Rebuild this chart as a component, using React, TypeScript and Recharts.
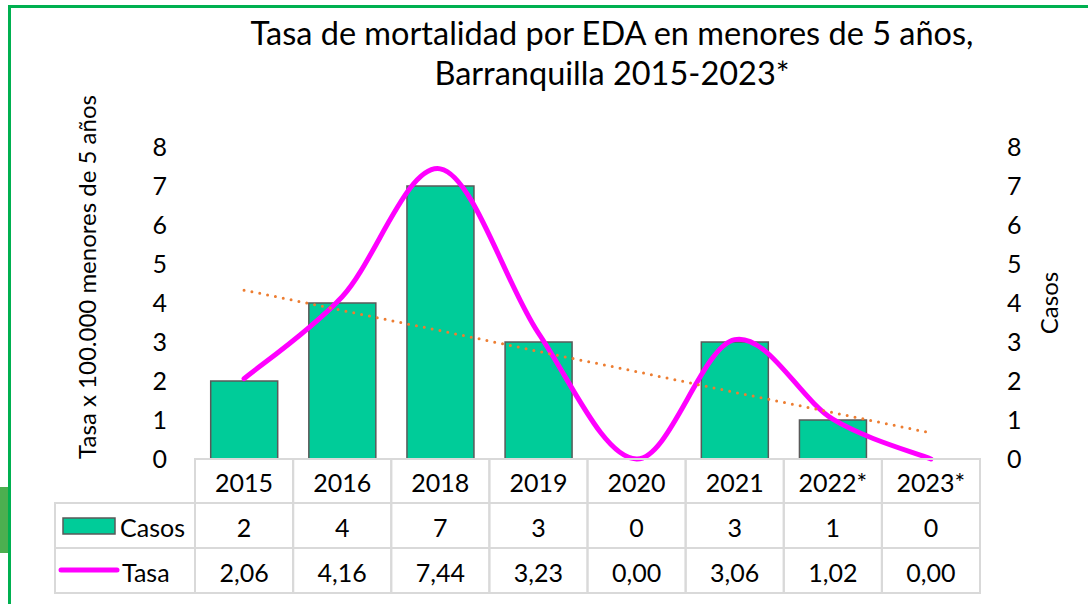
import { ComposedChart, Bar, Line, XAxis, YAxis } from 'recharts'

const years = ['2015', '2016', '2018', '2019', '2020', '2021', '2022*', '2023*']
const casos = [2, 4, 7, 3, 0, 3, 1, 0]
const tasa = [2.06, 4.16, 7.44, 3.23, 0, 3.06, 1.02, 0]
// dotted linear trend line
const tendencia = [4.33, 3.81, 3.29, 2.76, 2.24, 1.71, 1.19, 0.67]
const yTicks = [0, 1, 2, 3, 4, 5, 6, 7, 8]

const W = 1088
const H = 604
const LEFT = 195
const RIGHT = 108
const BAND = (W - LEFT - RIGHT) / years.length
const FONT = 'Lato, "Open Sans", sans-serif'
const GRID = '#D9D9D9'
const BAR_FILL = '#00CC99'
const MAGENTA = '#FF00FF'

const data = years.map((y, i) => ({
  year: y,
  casos: casos[i],
  tasa: tasa[i],
  tendencia: tendencia[i],
}))

// Excel-like smoothed line (Catmull-Rom via bezier segments)
function excelCurve(context: any) {
  let pts: number[][] = []
  return {
    areaStart() {},
    areaEnd() {},
    lineStart() {
      pts = []
    },
    point(x: number, y: number) {
      pts.push([+x, +y])
    },
    lineEnd() {
      const n = pts.length
      if (!n) return
      context.moveTo(pts[0][0], pts[0][1])
      for (let i = 0; i < n - 1; i++) {
        const p0 = pts[i - 1] || pts[i]
        const p1 = pts[i]
        const p2 = pts[i + 1]
        const p3 = pts[i + 2] || p2
        context.bezierCurveTo(
          p1[0] + (p2[0] - p0[0]) / 6,
          p1[1] + (p2[1] - p0[1]) / 6,
          p2[0] - (p3[0] - p1[0]) / 6,
          p2[1] - (p3[1] - p1[1]) / 6,
          p2[0],
          p2[1]
        )
      }
    },
  }
}

const ROWS = [44, 45, 45]

function TableTick(props: any) {
  const { x, y, payload } = props
  const i = years.indexOf(payload.value)
  const left = x - BAND / 2
  const r1 = y + ROWS[0]
  const r2 = r1 + ROWS[1]
  const cells = [
    { top: y, h: ROWS[0], text: years[i] },
    { top: r1, h: ROWS[1], text: String(casos[i]) },
    { top: r2, h: ROWS[2], text: tasa[i].toFixed(2).replace('.', ',') },
  ]
  return (
    <g>
      {cells.map((c, k) => (
        <g key={k}>
          <rect x={left} y={c.top} width={BAND} height={c.h} fill="none" stroke={GRID} strokeWidth={2} />
          <text
            x={x}
            y={c.top + c.h / 2 + 1}
            textAnchor="middle"
            dominantBaseline="central"
            fontSize={25}
            fontFamily={FONT}
            fill="#000"
          >
            {c.text}
          </text>
        </g>
      ))}
      {i === 0 && (
        <g>
          <rect x={left - 140} y={r1} width={140} height={ROWS[1]} fill="none" stroke={GRID} strokeWidth={2} />
          <rect x={left - 140} y={r2} width={140} height={ROWS[2]} fill="none" stroke={GRID} strokeWidth={2} />
          <rect x={left - 132} y={r1 + 15} width={52} height={16} fill={BAR_FILL} stroke="#595959" strokeWidth={1.5} />
          <text x={left - 75} y={r1 + ROWS[1] / 2 + 1} dominantBaseline="central" fontSize={25} fontFamily={FONT} fill="#000">
            Casos
          </text>
          <line x1={left - 134} x2={left - 78} y1={r2 + 22} y2={r2 + 22} stroke={MAGENTA} strokeWidth={5} strokeLinecap="round" />
          <text x={left - 73} y={r2 + ROWS[2] / 2 + 1} dominantBaseline="central" fontSize={25} fontFamily={FONT} fill="#000">
            Tasa
          </text>
        </g>
      )}
    </g>
  )
}

const tickStyle = { fontSize: 25, fontFamily: FONT, fill: '#000' }

export default function App() {
  return (
    <div style={{ position: 'absolute', left: 0, top: 0, width: W, height: H, background: '#fff', overflow: 'hidden' }}>
      <div style={{ position: 'absolute', left: 8, top: 5, right: 0, bottom: 0, borderTop: '3px solid #00B050', borderLeft: '3px solid #00B050' }} />
      <div style={{ position: 'absolute', left: 0, top: 487, width: 8, height: 66, background: '#4CAF50' }} />
      <div
        style={{
          position: 'absolute',
          left: 162,
          width: 900,
          top: 13,
          textAlign: 'center',
          fontFamily: FONT,
          fontSize: 32.5,
          lineHeight: '40px',
          color: '#000',
        }}
      >
        Tasa de mortalidad por EDA en menores de 5 años,
        <br />
        Barranquilla 2015-2023*
      </div>
      <div style={{ position: 'absolute', left: 0, top: 0 }}>
        <ComposedChart width={W} height={H} data={data} margin={{ top: 147, right: 0, bottom: 11, left: 0 }} barCategoryGap="16%">
          <XAxis
            dataKey="year"
            height={134}
            axisLine={false}
            tickLine={false}
            tickSize={0}
            tickMargin={0}
            interval={0}
            tick={<TableTick />}
          />
          <YAxis
            yAxisId="left"
            width={LEFT}
            domain={[0, 8]}
            ticks={yTicks}
            axisLine={false}
            tickLine={false}
            tickSize={0}
            tickMargin={28}
            tick={tickStyle}
            label={{
              content: (p: any) => {
                const vb = p.viewBox
                const cx = vb.x + 86
                const cy = vb.y + vb.height / 2 - 26
                return (
                  <text
                    x={cx}
                    y={cy}
                    transform={`rotate(-90 ${cx} ${cy})`}
                    textAnchor="middle"
                    dominantBaseline="central"
                    fontSize={24}
                    fontFamily={FONT}
                    fill="#000"
                  >
                    Tasa x 100.000 menores de 5 años
                  </text>
                )
              },
            }}
          />
          <YAxis
            yAxisId="right"
            orientation="right"
            width={RIGHT}
            domain={[0, 8]}
            ticks={yTicks}
            axisLine={false}
            tickLine={false}
            tickSize={0}
            tickMargin={27}
            tick={tickStyle}
            label={{
              content: (p: any) => {
                const vb = p.viewBox
                const cx = vb.x + 68
                const cy = vb.y + vb.height / 2
                return (
                  <text
                    x={cx}
                    y={cy}
                    transform={`rotate(-90 ${cx} ${cy})`}
                    textAnchor="middle"
                    dominantBaseline="central"
                    fontSize={24}
                    fontFamily={FONT}
                    fill="#000"
                  >
                    Casos
                  </text>
                )
              },
            }}
          />
          <Bar yAxisId="right" dataKey="casos" fill={BAR_FILL} stroke="#595959" strokeWidth={1.5} isAnimationActive={false} />
          <Line
            yAxisId="left"
            dataKey="tasa"
            type={excelCurve as any}
            stroke={MAGENTA}
            strokeWidth={5}
            strokeLinecap="round"
            dot={false}
            activeDot={false}
            isAnimationActive={false}
          />
          <Line
            yAxisId="right"
            dataKey="tendencia"
            type="linear"
            stroke="#ED7D31"
            strokeWidth={3}
            strokeDasharray="0 8"
            strokeLinecap="round"
            dot={false}
            activeDot={false}
            isAnimationActive={false}
          />
        </ComposedChart>
      </div>
    </div>
  )
}
